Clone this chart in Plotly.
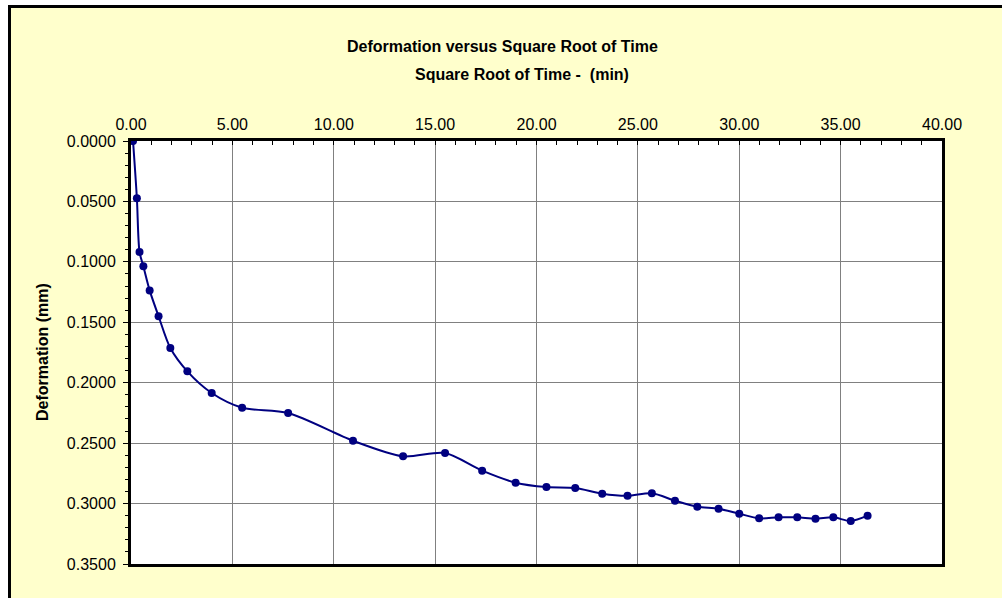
import plotly.graph_objects as go

# Data
sqrt_time = [0.10, 0.29, 0.42, 0.61, 0.92, 1.36, 1.94, 2.78, 3.98, 5.48, 7.75,
             10.95, 13.42, 15.49, 17.32, 18.97, 20.49, 21.91, 23.24, 24.49,
             25.69, 26.83, 27.93, 28.98, 30.00, 30.98, 31.94, 32.86, 33.76,
             34.64, 35.50, 36.33]
deformation = [0.0000, 0.0474, 0.0918, 0.1037, 0.1236, 0.1450, 0.1713, 0.1906,
               0.2085, 0.2207, 0.2251, 0.2480, 0.2609, 0.2582, 0.2728, 0.2827,
               0.2863, 0.2871, 0.2918, 0.2935, 0.2915, 0.2976, 0.3026, 0.3042,
               0.3084, 0.3122, 0.3114, 0.3114, 0.3125, 0.3114, 0.3144, 0.3100]

x_ticks = [0, 5, 10, 15, 20, 25, 30, 35, 40]
y_ticks = [0.0, 0.05, 0.10, 0.15, 0.20, 0.25, 0.30, 0.35]

title_text = "Deformation versus Square Root of Time"
x_title = "Square Root of Time -  (min)"
y_title = "Deformation (mm)"

FONT = "Liberation Sans, Arial, sans-serif"
W, H = 1002, 598
L, T = 131, 141
R, B = W - 942, H - 564
PW, PH = W - L - R, H - T - B


def px_x(px):
    return (px - L) / PW


def px_y(py):
    return (H - B - py) / PH


fig = go.Figure()
fig.add_trace(go.Scatter(
    x=sqrt_time, y=deformation, mode="lines+markers",
    line=dict(color="#000080", width=2, shape="spline", smoothing=0.8),
    marker=dict(color="#000080", size=8),
    showlegend=False,
))

fig.update_layout(
    width=W, height=H,
    margin=dict(l=L, r=R, t=T, b=B, pad=0),
    paper_bgcolor="#FFFFCC",
    plot_bgcolor="#FFFFFF",
    font=dict(family=FONT, size=16, color="#000000"),
    xaxis=dict(
        side="top", range=[0, 40], tickvals=x_ticks,
        ticktext=[f"{v:.2f}" for v in x_ticks],
        showgrid=True, gridcolor="#808080", gridwidth=1,
        showline=True, linecolor="#000000", linewidth=3, mirror=True,
        ticks="inside", ticklen=4, tickcolor="#000000", tickwidth=1,
        ticklabelstandoff=2,
        minor=dict(dtick=1, ticks="inside", ticklen=4, tickcolor="#000000", showgrid=False),
        zeroline=False,
        tickfont=dict(size=16, family=FONT),
    ),
    yaxis=dict(
        range=[0.35, 0], tickvals=y_ticks,
        ticktext=[f"{v:.4f}" for v in y_ticks],
        showgrid=True, gridcolor="#808080", gridwidth=1,
        showline=True, linecolor="#000000", linewidth=3, mirror=True,
        ticks="outside", ticklen=5, tickcolor="#000000", tickwidth=1,
        ticklabelstandoff=4,
        minor=dict(dtick=0.01, ticks="outside", ticklen=3, tickcolor="#000000", showgrid=False),
        zeroline=False,
        tickfont=dict(size=16, family=FONT),
    ),
    annotations=[
        dict(text=f"<b>{title_text}</b>", xref="paper", yref="paper",
             x=px_x(502), y=px_y(47), xanchor="center", yanchor="middle",
             showarrow=False, font=dict(size=16, family=FONT)),
        dict(text=f"<b>{x_title}</b>", xref="paper", yref="paper",
             x=px_x(522), y=px_y(74), xanchor="center", yanchor="middle",
             showarrow=False, font=dict(size=16, family=FONT)),
        dict(text=f"<b>{y_title}</b>", xref="paper", yref="paper",
             x=px_x(42), y=px_y(352), xanchor="center", yanchor="middle",
             textangle=-90, showarrow=False, font=dict(size=16, family=FONT)),
    ],
    shapes=[
        # white page margin strips outside the chart area border
        dict(type="rect", xref="paper", yref="paper",
             x0=px_x(-2), x1=px_x(8), y0=px_y(610), y1=px_y(-2),
             line=dict(width=0), fillcolor="#FFFFFF", layer="below"),
        dict(type="rect", xref="paper", yref="paper",
             x0=px_x(-2), x1=px_x(1010), y0=px_y(5), y1=px_y(-2),
             line=dict(width=0), fillcolor="#FFFFFF", layer="below"),
        # chart area border (left and top)
        dict(type="line", xref="paper", yref="paper",
             x0=px_x(9.5), x1=px_x(9.5), y0=px_y(610), y1=px_y(5),
             line=dict(color="#000000", width=3), layer="below"),
        dict(type="line", xref="paper", yref="paper",
             x0=px_x(8), x1=px_x(1010), y0=px_y(6.5), y1=px_y(6.5),
             line=dict(color="#000000", width=3), layer="below"),
    ],
)

fig.write_html("out.html", config={"displayModeBar": False},
               post_script="document.body.style.margin='0';")
